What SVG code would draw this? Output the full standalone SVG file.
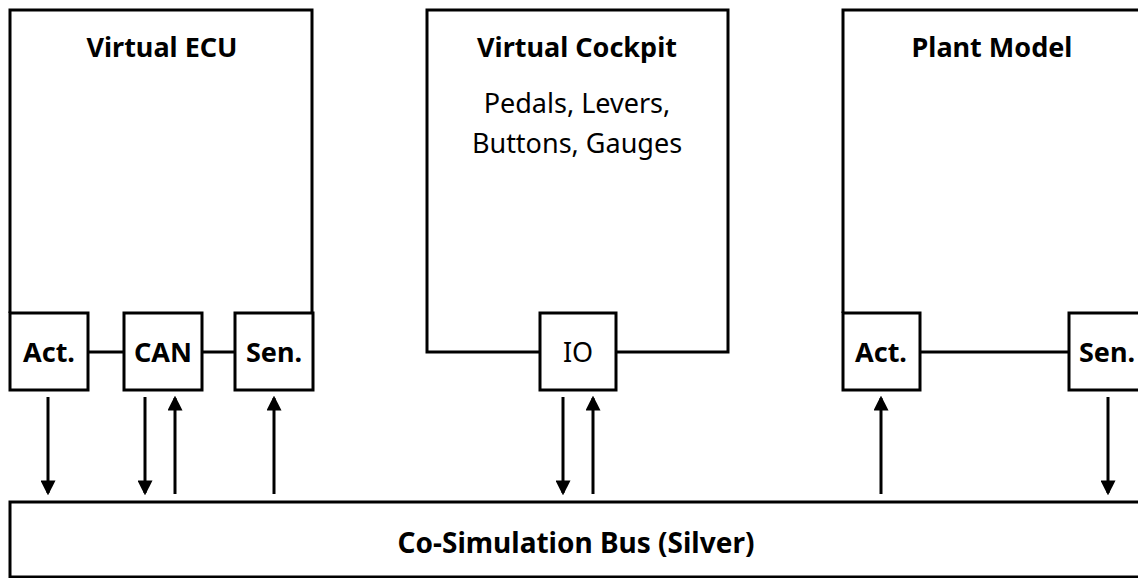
<svg xmlns="http://www.w3.org/2000/svg" width="1138" height="578" viewBox="0 0 1138 578">
<style>
.b{fill:#fff;stroke:#000;stroke-width:3}
.o{fill:none;stroke:#000;stroke-width:3}
.t{font-family:"Noto Sans","Open Sans",sans-serif;font-size:27px;fill:#000;text-anchor:middle}
.bd{font-weight:bold}
.c{stroke:#000;stroke-width:3;fill:none}
</style>
<defs>
<marker id="ah" markerWidth="5" markerHeight="5" refX="4.2" refY="2.5" orient="auto" markerUnits="strokeWidth" viewBox="0 0 5 5"><path d="M0,0 L5,2.5 L0,5 Z" fill="#000"/></marker>
</defs>
<rect width="1138" height="578" fill="#fff"/>
<g id="ecu">
<path class="o" d="M10,313 V10 H312 V313"/>
<text class="t bd" x="162" y="57">Virtual ECU</text>
</g>
<g id="ecu-act"><rect class="b" x="10" y="313" width="78" height="77"/><text class="t bd" x="49" y="362">Act.</text></g>
<g id="ecu-can"><rect class="b" x="124" y="313" width="78" height="77"/><text class="t bd" x="163" y="362">CAN</text></g>
<g id="ecu-sen"><rect class="b" x="235" y="313" width="78" height="77"/><text class="t bd" x="274" y="362">Sen.</text></g>
<g id="cockpit">
<path class="o" d="M540,352 H427 V10 H728 V352 H616"/>
<text class="t bd" x="577" y="57">Virtual Cockpit</text>
<text class="t" x="577" y="113">Pedals, Levers,</text>
<text class="t" x="577" y="153">Buttons, Gauges</text>
</g>
<g id="cockpit-io"><rect class="b" x="540" y="313" width="76" height="77"/><text class="t" x="578" y="362">IO</text></g>
<g id="plant">
<path class="o" d="M843,313 V10 H1145"/>
<text class="t bd" x="992" y="57">Plant Model</text>
</g>
<g id="plant-act"><rect class="b" x="843" y="313" width="77" height="77"/><text class="t bd" x="881" y="362">Act.</text></g>
<g id="plant-sen"><rect class="b" x="1069" y="313" width="80" height="77"/><text class="t bd" x="1107" y="362">Sen.</text></g>
<g id="bus">
<rect class="b" x="10" y="502" width="1140" height="75"/>
<text class="t bd" x="576" y="553" style="font-size:28px">Co-Simulation Bus (Silver)</text>
</g>
<g id="connectors">
<line class="c" x1="88" y1="352" x2="124" y2="352"/>
<line class="c" x1="202" y1="352" x2="235" y2="352"/>
<line class="c" x1="920" y1="352" x2="1069" y2="352"/>
<line class="c" x1="48" y1="397" x2="48" y2="493" marker-end="url(#ah)"/>
<line class="c" x1="145" y1="397" x2="145" y2="493" marker-end="url(#ah)"/>
<line class="c" x1="175" y1="494" x2="175" y2="398" marker-end="url(#ah)"/>
<line class="c" x1="274" y1="494" x2="274" y2="398" marker-end="url(#ah)"/>
<line class="c" x1="563" y1="397" x2="563" y2="493" marker-end="url(#ah)"/>
<line class="c" x1="593" y1="494" x2="593" y2="398" marker-end="url(#ah)"/>
<line class="c" x1="881" y1="494" x2="881" y2="398" marker-end="url(#ah)"/>
<line class="c" x1="1108" y1="397" x2="1108" y2="493" marker-end="url(#ah)"/>
</g>
</svg>
